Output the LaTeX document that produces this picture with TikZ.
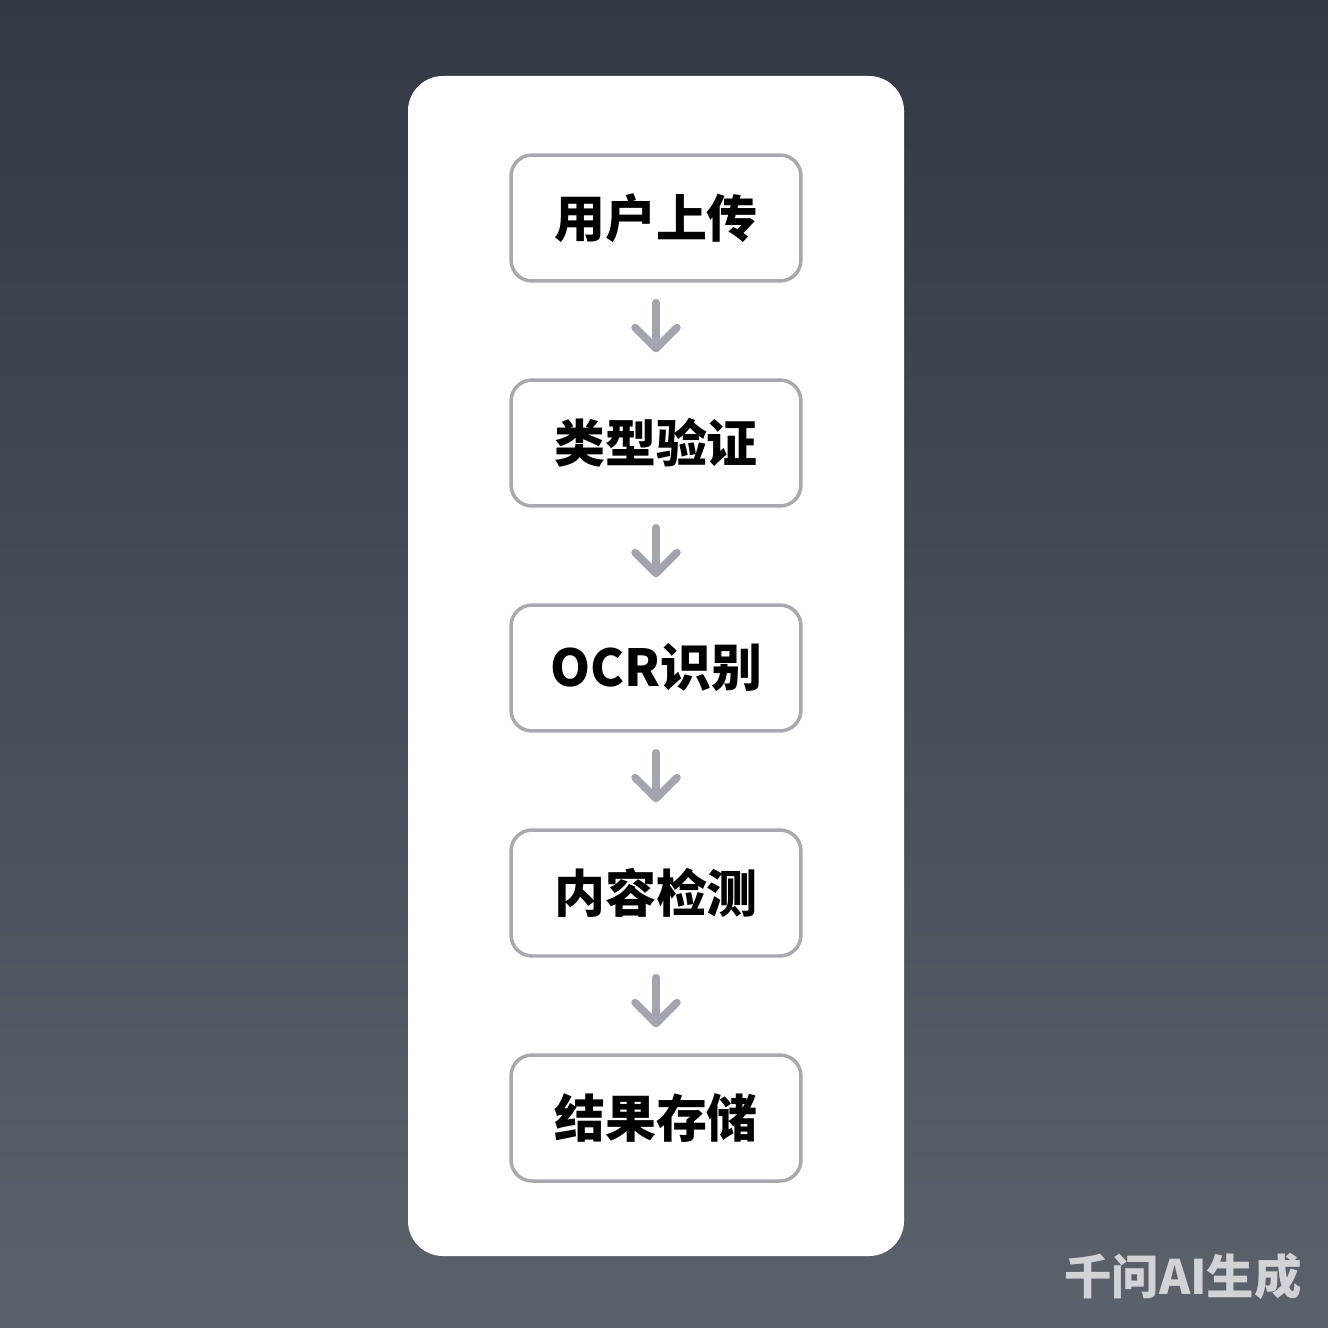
\documentclass[tikz,border=0pt]{standalone}
\usepackage{fontspec}
\newfontfamily\cjk{Noto Sans CJK SC}
\usetikzlibrary{arrows.meta}
\definecolor{bgtop}{HTML}{323844}
\definecolor{bgbot}{HTML}{5B626C}
\definecolor{boxline}{HTML}{A8A9AE}
\definecolor{arrline}{HTML}{A1A5AD}
\definecolor{mark}{HTML}{D2D3D5}
\tikzset{
  stage/.style={draw=boxline, line width=0.07cm, fill=white, rounded corners=0.42cm,
    minimum width=5.8cm, minimum height=2.52cm, font=\cjk\bfseries\fontsize{29}{29}\selectfont},
  flow/.style={draw=arrline, line width=0.15cm, line cap=round,
    -{Straight Barb[length=0.42cm, width=0.84cm, line cap=round, line join=round]},
    shorten <=0.4cm, shorten >=0.52cm}
}
\begin{document}
\begin{tikzpicture}[x=0.02cm, y=-0.02cm]
  \useasboundingbox (0,0) rectangle (1328,1328);
  \shade[top color=bgtop, bottom color=bgbot] (0,0) rectangle (1328,1328);
  \fill[white, rounded corners=0.7cm] (408,76) rectangle (904,1256);
  \node[stage] (upload) at (656,218) {用户上传};
  \node[stage] (check) at (656,443) {类型验证};
  \node[stage] (ocr) at (656,668) {OCR识别};
  \node[stage] (scan) at (656,893) {内容检测};
  \node[stage] (store) at (656,1118) {结果存储};
  \draw[flow] (upload) -- (check);
  \draw[flow] (check) -- (ocr);
  \draw[flow] (ocr) -- (scan);
  \draw[flow] (scan) -- (store);
  \node[text=mark, font=\cjk\bfseries\fontsize{27}{27}\selectfont, anchor=east] (brand) at (1308,1276) {千问AI生成};
\end{tikzpicture}
\end{document}
